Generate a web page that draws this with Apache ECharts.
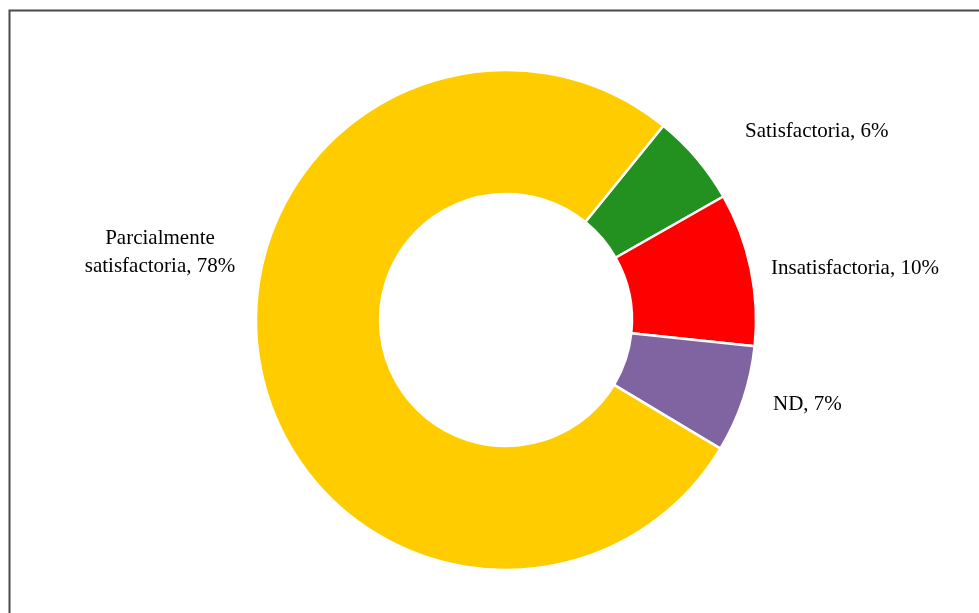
<!DOCTYPE html>
<html>
<head>
<meta charset="utf-8">
<script src="https://cdn.jsdelivr.net/npm/echarts@6/dist/echarts.min.js"></script>
<style>html,body{margin:0;padding:0;background:#fff;}#c{width:979px;height:613px;}</style>
</head>
<body>
<div id="c"></div>
<script>
const categories = ['Satisfactoria', 'Insatisfactoria', 'ND', 'Parcialmente\nsatisfactoria'];
const values = [6, 10, 7, 78];
const colors = ['#239120', '#FF0000', '#8064A2', '#FFCC00'];
const labelPos = [
  {x: 745, y: 131, align: 'left'},
  {x: 771, y: 268, align: 'left'},
  {x: 773, y: 404, align: 'left'},
  {x: 160, y: 252, align: 'center'}
];

const chart = echarts.init(document.getElementById('c'));
chart.setOption({
  backgroundColor: '#fff',
  animation: false,
  graphic: [{
    type: 'rect', left: 7, top: 8,
    shape: {width: 1100, height: 800},
    style: {fill: 'none', stroke: '#4a4a4a', lineWidth: 2},
    silent: true
  }],
  series: [{
    type: 'pie',
    center: [506, 320],
    radius: [126, 250],
    startAngle: 51,
    clockwise: true,
    avoidLabelOverlap: false,
    itemStyle: {borderColor: '#fff', borderWidth: 2.5},
    label: {
      show: true,
      position: 'outside',
      formatter: p => p.name + ', ' + p.value + '%',
      fontFamily: 'Liberation Serif',
      fontSize: 21,
      color: '#000',
      lineHeight: 28
    },
    labelLine: {show: false},
    labelLayout: p => {
      const lp = labelPos[p.dataIndex];
      return {x: lp.x, y: lp.y, align: lp.align, verticalAlign: 'middle'};
    },
    data: categories.map((c, i) => ({name: c, value: values[i], itemStyle: {color: colors[i]}}))
  }]
});
</script>
</body>
</html>
